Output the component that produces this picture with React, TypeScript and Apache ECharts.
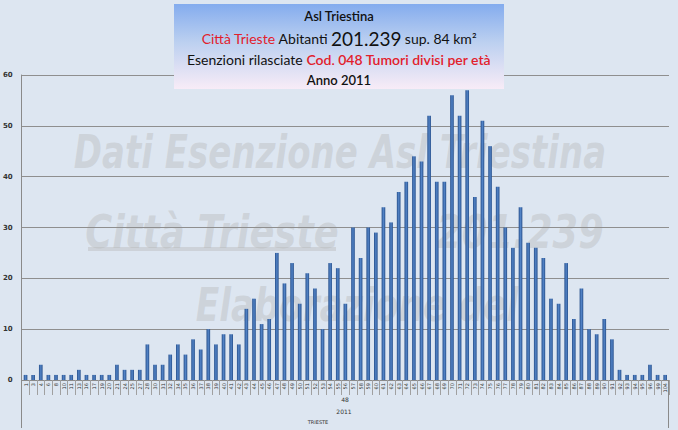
import React, { useEffect, useRef } from "react";
import * as echarts from "echarts";

const ages = [
  "1", "3", "4", "6", "8", "10", "11", "13", "16", "17", "19", "20", "21", "24", "25", "27", "28", "30", "31", "32",
  "34", "35", "36", "37", "38", "39", "40", "41", "42", "43", "44", "45", "46", "47", "48", "49", "50", "51", "52", "53",
  "54", "55", "56", "57", "58", "59", "60", "61", "62", "63", "64", "65", "66", "67", "68", "69", "70", "71", "72", "73",
  "74", "75", "76", "77", "78", "79", "80", "81", "82", "83", "84", "85", "86", "87", "88", "89", "90", "91", "92", "93",
  "94", "95", "96", "99", "104",
];

const esenzioni = [
  1, 1, 3, 1, 1, 1, 1, 2, 1, 1,
  1, 1, 3, 2, 2, 2, 7, 3, 3, 5,
  7, 5, 8, 6, 10, 7, 9, 9, 7, 14,
  16, 11, 12, 25, 19, 23, 15, 21, 18, 10,
  23, 22, 15, 30, 24, 30, 29, 34, 31, 37,
  39, 44, 43, 52, 39, 39, 56, 52, 57, 36,
  51, 46, 38, 30, 26, 34, 27, 26, 24, 16,
  15, 23, 12, 18, 10, 9, 12, 8, 2, 1,
  1, 1, 3, 1, 1,
];

const groupLabels = ["48", "2011", "TRIESTE"];
const titleLines = ["Asl Triestina", "Anno 2011"];
const watermarks = ["Dati Esenzione Asl Triestina", "Città Trieste", "201.239", "Elaborazione del"];

export default function App() {
  const ref = useRef<HTMLDivElement>(null);
  useEffect(() => {
    if (!ref.current) return;
    const chart = echarts.init(ref.current, null, { renderer: "svg" });
    const wmColor = "rgba(180,180,180,0.38)";
    const wmFont = { fontFamily: "DejaVu Sans", fontWeight: "bold", fontStyle: "italic", fontSize: 46, fill: wmColor };
    const titleFont = "Lato";
    chart.setOption({
      animation: false,
      backgroundColor: "#dde6f1",
      grid: { left: 21, right: 9, top: 75, bottom: 50 },
      xAxis: {
        type: "category",
        data: ages,
        axisLine: { show: true, lineStyle: { color: "#8a8a8a", width: 1 } },
        axisTick: { show: true, interval: 0, length: 15, lineStyle: { color: "#a0a0a0" } },
        axisLabel: {
          interval: 0,
          rotate: 90,
          fontSize: 5,
          color: "#333",
          fontFamily: "DejaVu Sans",
          margin: 3,
        },
      },
      yAxis: {
        type: "value",
        min: 0,
        max: 60,
        interval: 10,
        axisLine: { show: true, lineStyle: { color: "#8a8a8a" } },
        axisTick: { show: false },
        splitLine: { lineStyle: { color: "#8f8f8f", width: 1 } },
        axisLabel: { fontSize: 7, fontWeight: "bold", color: "#333", fontFamily: "DejaVu Sans", margin: 9 },
      },
      series: [
        {
          type: "bar",
          data: esenzioni,
          barWidth: "48%",
          itemStyle: {
            color: new echarts.graphic.LinearGradient(0, 0, 1, 0, [
              { offset: 0, color: "#27508c" },
              { offset: 0.5, color: "#5283c6" },
              { offset: 1, color: "#27508c" },
            ]),
          },
        },
      ],
      graphic: [
        { type: "text", z: -10, x: 340, y: 152, scaleX: 0.74, style: { ...wmFont, text: watermarks[0], align: "center", verticalAlign: "middle" } },
        { type: "text", z: -10, x: 212, y: 232, scaleX: 0.8, style: { ...wmFont, text: watermarks[1], align: "center", verticalAlign: "middle" } },
        { type: "rect", z: -10, shape: { x: 88, y: 247, width: 248, height: 4 }, style: { fill: wmColor } },
        { type: "text", z: -10, x: 520, y: 232, scaleX: 0.8, style: { ...wmFont, text: watermarks[2], align: "center", verticalAlign: "middle" } },
        { type: "text", z: -10, x: 357, y: 305, scaleX: 0.75, style: { ...wmFont, text: watermarks[3], align: "center", verticalAlign: "middle" } },
        { type: "line", z: 5, shape: { x1: 21.5, y1: 380, x2: 21.5, y2: 428 }, style: { stroke: "#8a8a8a", lineWidth: 1 } },
        { type: "line", z: 5, shape: { x1: 668.5, y1: 380, x2: 668.5, y2: 428 }, style: { stroke: "#8a8a8a", lineWidth: 1 } },
        { type: "text", z: 5, x: 345, y: 399, style: { text: groupLabels[0], fontSize: 6, fill: "#333", fontFamily: "DejaVu Sans", align: "center", verticalAlign: "middle" } },
        { type: "text", z: 5, x: 344, y: 411, style: { text: groupLabels[1], fontSize: 6, fill: "#333", fontFamily: "DejaVu Sans", align: "center", verticalAlign: "middle" } },
        { type: "text", z: 5, x: 318, y: 422, style: { text: groupLabels[2], fontSize: 5, fill: "#333", fontFamily: "DejaVu Sans", align: "center", verticalAlign: "middle" } },
        {
          type: "rect",
          z: 100,
          shape: { x: 174, y: 4, width: 330, height: 85 },
          style: {
            fill: new echarts.graphic.LinearGradient(0, 0, 0, 1, [
              { offset: 0, color: "#84acee" },
              { offset: 0.45, color: "#bcd0f0" },
              { offset: 1, color: "#f8ecf7" },
            ]),
          },
        },
        { type: "text", z: 101, x: 339, y: 16, style: { text: titleLines[0], fontSize: 13, fontWeight: 600, fill: "#111", fontFamily: titleFont, align: "center", verticalAlign: "middle" } },
        {
          type: "text",
          z: 101,
          x: 339,
          y: 38,
          style: {
            text: "{r|Città Trieste} {k|Abitanti} {big|201.239} {k|sup. 84 km²}",
            align: "center",
            verticalAlign: "middle",
            rich: {
              r: { fontSize: 14, fill: "#e2202c", fontFamily: titleFont },
              k: { fontSize: 14, fill: "#111", fontFamily: titleFont },
              big: { fontSize: 19, fill: "#111", fontFamily: titleFont },
            },
          },
        },
        {
          type: "text",
          z: 101,
          x: 339,
          y: 59,
          style: {
            text: "{k|Esenzioni rilasciate} {r|Cod. 048 Tumori divisi per età}",
            align: "center",
            verticalAlign: "middle",
            rich: {
              r: { fontSize: 14, fill: "#e2202c", fontFamily: titleFont, fontWeight: 600 },
              k: { fontSize: 14, fill: "#111", fontFamily: titleFont },
            },
          },
        },
        { type: "text", z: 101, x: 339, y: 80, style: { text: titleLines[1], fontSize: 13, fontWeight: 600, fill: "#111", fontFamily: titleFont, align: "center", verticalAlign: "middle" } },
      ],
    });
    return () => chart.dispose();
  }, []);
  return <div ref={ref} style={{ position: "fixed", left: 0, top: 0, width: 678, height: 430 }} />;
}
